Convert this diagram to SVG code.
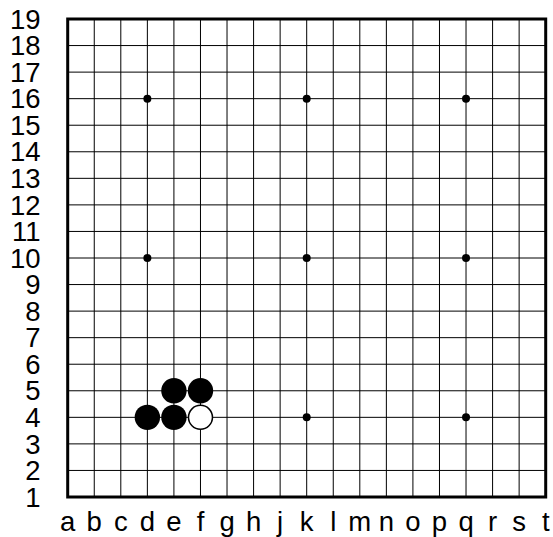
<svg xmlns="http://www.w3.org/2000/svg" width="553" height="537" viewBox="0 0 553 537">
<style>
.lbl{font-family:"Liberation Sans",Arial,sans-serif;font-size:27.5px;fill:#000}
.num{text-anchor:end}
.col{text-anchor:middle}
.grid{stroke:#000;stroke-width:1;fill:none}
.border{stroke:#000;stroke-width:3;fill:none}
.star{fill:#000}
.black{fill:#000}
.white{fill:#fff;stroke:#000;stroke-width:1.5}
</style>
<rect width="553" height="537" fill="#fff"/>
<g id="grid">
<path class="grid" d="M94.26 19V497M120.81 19V497M147.37 19V497M173.92 19V497M200.48 19V497M227.03 19V497M253.59 19V497M280.14 19V497M306.70 19V497M333.26 19V497M359.81 19V497M386.37 19V497M412.92 19V497M439.48 19V497M466.03 19V497M492.59 19V497M519.14 19V497M67.7 45.56H545.7M67.7 72.11H545.7M67.7 98.67H545.7M67.7 125.22H545.7M67.7 151.78H545.7M67.7 178.33H545.7M67.7 204.89H545.7M67.7 231.44H545.7M67.7 258H545.7M67.7 284.56H545.7M67.7 311.11H545.7M67.7 337.67H545.7M67.7 364.22H545.7M67.7 390.78H545.7M67.7 417.33H545.7M67.7 443.89H545.7M67.7 470.44H545.7"/>
<rect class="border" x="67.7" y="19" width="478" height="478"/>
</g>
<g id="stars">
<circle class="star" cx="147.37" cy="98.67" r="4"/>
<circle class="star" cx="306.70" cy="98.67" r="4"/>
<circle class="star" cx="466.03" cy="98.67" r="4"/>
<circle class="star" cx="147.37" cy="258" r="4"/>
<circle class="star" cx="306.70" cy="258" r="4"/>
<circle class="star" cx="466.03" cy="258" r="4"/>
<circle class="star" cx="147.37" cy="417.33" r="4"/>
<circle class="star" cx="306.70" cy="417.33" r="4"/>
<circle class="star" cx="466.03" cy="417.33" r="4"/>
</g>
<g id="stones">
<circle id="d4" class="black" cx="147.37" cy="417.33" r="12.7"/>
<circle id="e4" class="black" cx="173.92" cy="417.33" r="12.7"/>
<circle id="e5" class="black" cx="173.92" cy="390.78" r="12.7"/>
<circle id="f5" class="black" cx="200.48" cy="390.78" r="12.7"/>
<circle id="f4" class="white" cx="200.48" cy="417.33" r="12"/>
</g>
<g id="row-labels" class="lbl num">
<text x="40.5" y="28.6">19</text>
<text x="40.5" y="55.2">18</text>
<text x="40.5" y="81.7">17</text>
<text x="40.5" y="108.3">16</text>
<text x="40.5" y="134.8">15</text>
<text x="40.5" y="161.4">14</text>
<text x="40.5" y="187.9">13</text>
<text x="40.5" y="214.5">12</text>
<text x="40.5" y="241">11</text>
<text x="40.5" y="267.6">10</text>
<text x="40.5" y="294.2">9</text>
<text x="40.5" y="320.7">8</text>
<text x="40.5" y="347.3">7</text>
<text x="40.5" y="373.8">6</text>
<text x="40.5" y="400.4">5</text>
<text x="40.5" y="426.9">4</text>
<text x="40.5" y="453.5">3</text>
<text x="40.5" y="480">2</text>
<text x="40.5" y="506.6">1</text>
</g>
<g id="col-labels" class="lbl col">
<text x="67.7" y="531">a</text>
<text x="94.26" y="531">b</text>
<text x="120.81" y="531">c</text>
<text x="147.37" y="531">d</text>
<text x="173.92" y="531">e</text>
<text x="200.48" y="531">f</text>
<text x="227.03" y="531">g</text>
<text x="253.59" y="531">h</text>
<text x="280.14" y="531">j</text>
<text x="306.70" y="531">k</text>
<text x="333.26" y="531">l</text>
<text x="359.81" y="531">m</text>
<text x="386.37" y="531">n</text>
<text x="412.92" y="531">o</text>
<text x="439.48" y="531">p</text>
<text x="466.03" y="531">q</text>
<text x="492.59" y="531">r</text>
<text x="519.14" y="531">s</text>
<text x="545.7" y="531">t</text>
</g>
</svg>
